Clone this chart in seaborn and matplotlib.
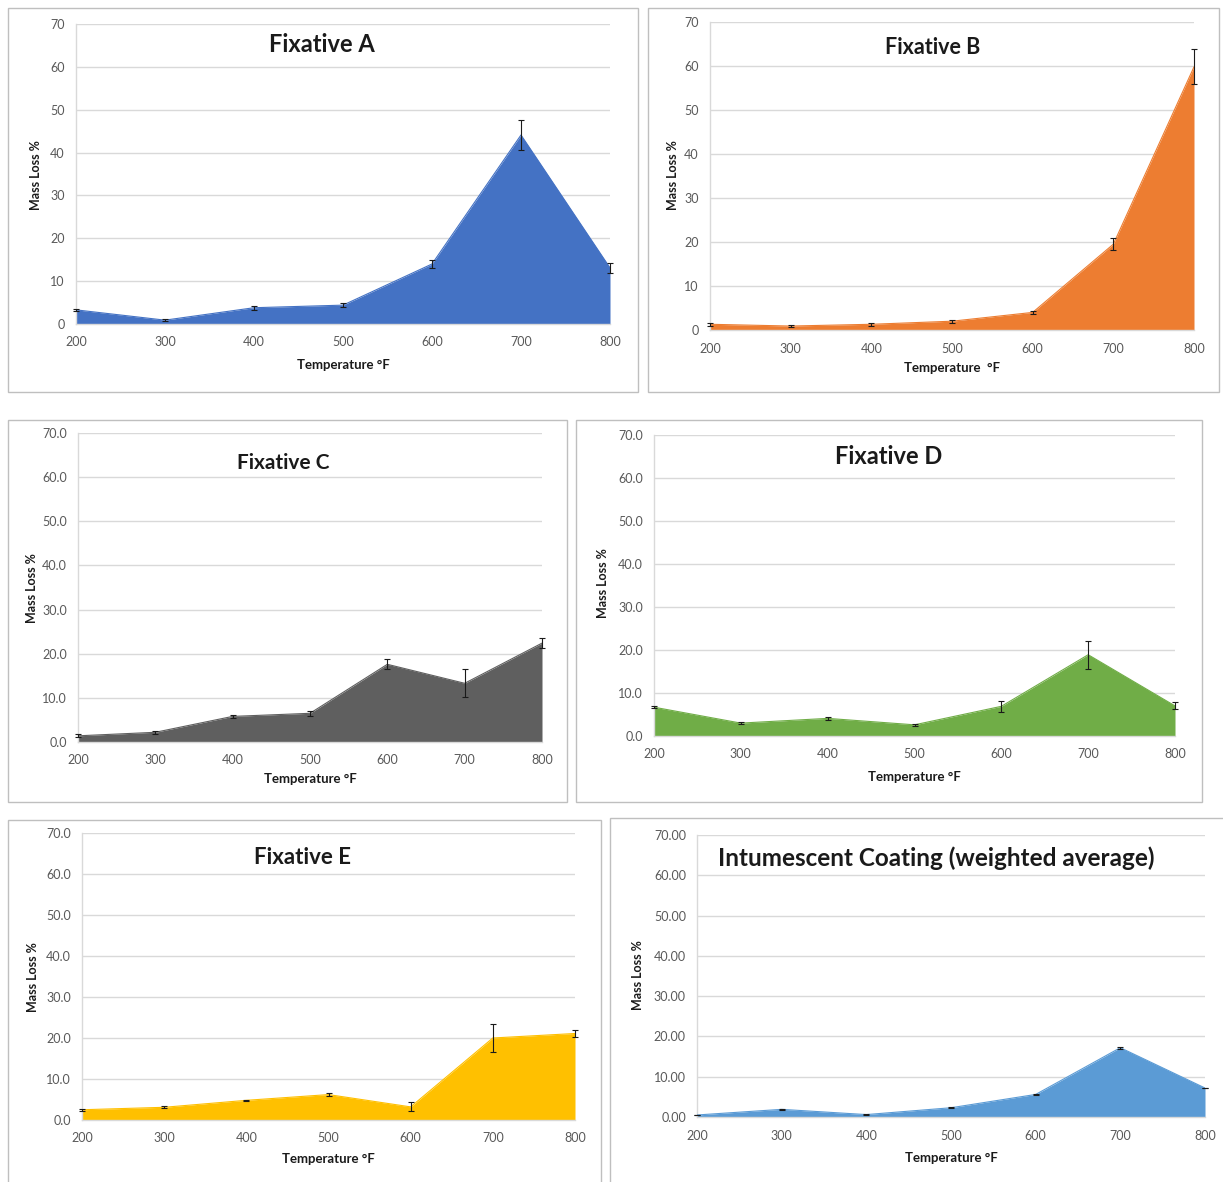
import matplotlib
matplotlib.use("Agg")
import matplotlib.pyplot as plt
import seaborn as sns
from matplotlib.patches import Rectangle
from matplotlib.ticker import FormatStrFormatter

sns.set_theme(style="white")
plt.rcParams["font.family"] = ["Lato", "DejaVu Sans"]

# Temperatures (°F)
temps = [200, 300, 400, 500, 600, 700, 800]

# Mass loss % and error for each fixative
fix_a = [3.3, 0.9, 3.8, 4.4, 14.0, 44.1, 13.1]
err_a = [0.3, 0.3, 0.5, 0.5, 1.0, 3.4, 1.2]

fix_b = [1.3, 0.9, 1.3, 2.0, 4.0, 19.5, 59.8]
err_b = [0.3, 0.3, 0.3, 0.3, 0.4, 1.3, 4.0]

fix_c = [1.4, 2.2, 5.8, 6.5, 17.6, 13.3, 22.4]
err_c = [0.3, 0.3, 0.4, 0.5, 1.1, 3.2, 1.2]

fix_d = [6.7, 3.0, 4.1, 2.6, 6.9, 18.9, 7.0]
err_d = [0.3, 0.2, 0.3, 0.3, 1.3, 3.3, 0.8]

fix_e = [2.5, 3.1, 4.8, 6.2, 3.2, 20.0, 21.1]
err_e = [0.3, 0.2, 0.2, 0.4, 1.1, 3.3, 0.8]

coating = [0.5, 1.9, 0.6, 2.3, 5.6, 17.2, 7.2]
err_coating = [0.1, 0.2, 0.1, 0.1, 0.2, 0.3, 0.1]

titles = ["Fixative A", "Fixative B", "Fixative C", "Fixative D", "Fixative E",
          "Intumescent Coating (weighted average)"]
xlabels = ["Temperature \u00b0F", "Temperature  \u00b0F", "Temperature \u00b0F",
           "Temperature \u00b0F", "Temperature \u00b0F", "Temperature \u00b0F"]
ylabel = "Mass Loss %"

W, H = 1223, 1182
fig = plt.figure(figsize=(W / 100, H / 100), dpi=100)
fig.patch.set_facecolor("white")


def fx(x):
    return x / W


def fy(y):
    return 1 - y / H


panels = [
    dict(vals=fix_a, errs=err_a, color="#4472C4", fmt="%d",
         box=(8, 8, 638, 392), plot=(76, 24, 610, 324),
         title_xy=(322, 45), title_fs=17, title_ha="center",
         xl_xy=(343, 365), yl_xy=(36, 175)),
    dict(vals=fix_b, errs=err_b, color="#ED7D31", fmt="%d",
         box=(648, 8, 1219, 392), plot=(710, 22, 1194, 330),
         title_xy=(933, 48), title_fs=15.5, title_ha="center",
         xl_xy=(952, 368), yl_xy=(673, 175)),
    dict(vals=fix_c, errs=err_c, color="#5F5F5F", fmt="%.1f",
         box=(8, 420, 567, 802), plot=(78, 433, 542, 742),
         title_xy=(283, 463), title_fs=15, title_ha="center",
         xl_xy=(310, 779), yl_xy=(32, 588)),
    dict(vals=fix_d, errs=err_d, color="#70AD47", fmt="%.1f",
         box=(576, 420, 1202, 802), plot=(654, 435, 1175, 736),
         title_xy=(889, 457), title_fs=17, title_ha="center",
         xl_xy=(914, 777), yl_xy=(603, 583)),
    dict(vals=fix_e, errs=err_e, color="#FFC000", fmt="%.1f",
         box=(8, 820, 601, 1190), plot=(82, 833, 575, 1120),
         title_xy=(303, 858), title_fs=16, title_ha="center",
         xl_xy=(328, 1159), yl_xy=(33, 977)),
    dict(vals=coating, errs=err_coating, color="#5B9BD5", fmt="%.2f",
         box=(610, 818, 1230, 1190), plot=(697, 835, 1205, 1117),
         title_xy=(718, 858), title_fs=17.5, title_ha="left",
         xl_xy=(951, 1158), yl_xy=(638, 975)),
]

grid_c = "#D9D9D9"
tick_c = "#595959"

for i, p in enumerate(panels):
    bx0, by0, bx1, by1 = p["box"]
    fig.patches.append(Rectangle((fx(bx0), fy(by1)), fx(bx1 - bx0), (by1 - by0) / H,
                                 transform=fig.transFigure, fill=False,
                                 edgecolor="#BFBFBF", linewidth=1.0, zorder=0))
    x0, y0, x1, y1 = p["plot"]
    ax = fig.add_axes([fx(x0), fy(y1), fx(x1 - x0), (y1 - y0) / H])
    ax.set_facecolor("none")

    ax.fill_between(temps, p["vals"], 0, color=p["color"], linewidth=0, zorder=2)
    sns.lineplot(x=temps, y=p["vals"], color=p["color"], linewidth=0.8, ax=ax, zorder=3)
    ax.errorbar(temps, p["vals"], yerr=p["errs"], fmt="none", ecolor="#1a1a1a",
                elinewidth=0.8, capsize=2.5, capthick=0.8, zorder=4, clip_on=False)

    ax.set_xlim(200, 800)
    ax.set_ylim(0, 70)
    ax.set_xticks(temps)
    ax.set_yticks(range(0, 71, 10))
    ax.yaxis.set_major_formatter(FormatStrFormatter(p["fmt"]))
    ax.yaxis.grid(True, color=grid_c, linewidth=1.0, zorder=0)
    ax.set_axisbelow(True)
    for s in ["top", "right"]:
        ax.spines[s].set_visible(False)
    for s in ["left", "bottom"]:
        ax.spines[s].set_color(grid_c)
        ax.spines[s].set_linewidth(1.0)
    ax.tick_params(axis="both", colors=grid_c, labelcolor=tick_c, labelsize=9,
                   direction="out", length=4, width=1.0)
    ax.tick_params(axis="x", pad=5)
    ax.tick_params(axis="y", pad=4)
    ax.set_xlabel("")
    ax.set_ylabel("")

    tx, ty = p["title_xy"]
    fig.text(fx(tx), fy(ty), titles[i], fontsize=p["title_fs"], fontweight="bold",
             color="#1a1a1a", ha=p["title_ha"], va="center")
    lx, ly = p["xl_xy"]
    fig.text(fx(lx), fy(ly), xlabels[i], fontsize=9.5, fontweight="bold",
             color="#1a1a1a", ha="center", va="center")
    yx, yy = p["yl_xy"]
    fig.text(fx(yx), fy(yy), ylabel, fontsize=9, fontweight="bold",
             color="#1a1a1a", ha="center", va="center", rotation=90)

fig.savefig("out.png", dpi=100, facecolor="white")
